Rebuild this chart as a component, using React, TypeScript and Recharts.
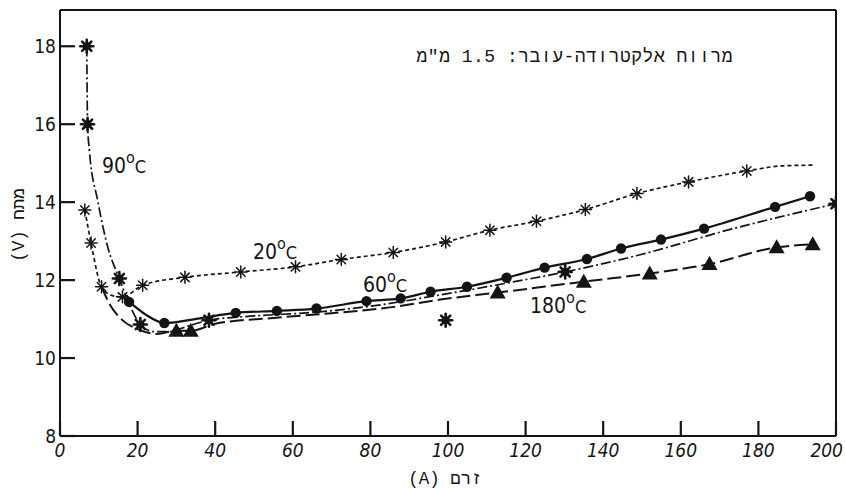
import React from 'react';
import { ComposedChart, Line, Scatter, XAxis, YAxis, ReferenceLine } from 'recharts';

// ---- data (current A, voltage V) ----
const xTicks = [0, 20, 40, 60, 80, 100, 120, 140, 160, 180, 200];
const yTicks = [8, 10, 12, 14, 16, 18];
const xDomain = [0, 200];
const yDomain = [8, 18.93];

const curve20 = [
  { x: 6.4, y: 13.8 }, { x: 8, y: 12.95 }, { x: 10.7, y: 11.83 }, { x: 13.5, y: 11.6 },
  { x: 16.1, y: 11.57 }, { x: 21.3, y: 11.87 }, { x: 32.2, y: 12.07 }, { x: 46.6, y: 12.21 },
  { x: 60.7, y: 12.34 }, { x: 72.5, y: 12.53 }, { x: 85.9, y: 12.71 }, { x: 99.4, y: 12.98 },
  { x: 110.8, y: 13.28 }, { x: 122.8, y: 13.51 }, { x: 135.4, y: 13.81 }, { x: 148.7, y: 14.22 },
  { x: 162, y: 14.52 }, { x: 177, y: 14.8 }, { x: 186, y: 14.93 }, { x: 194.6, y: 14.95 },
];
const marks20 = [
  { x: 6.4, y: 13.8 }, { x: 8, y: 12.95 }, { x: 10.7, y: 11.83 }, { x: 16.1, y: 11.57 },
  { x: 21.3, y: 11.87 }, { x: 32.2, y: 12.07 }, { x: 46.6, y: 12.21 }, { x: 60.7, y: 12.34 },
  { x: 72.5, y: 12.53 }, { x: 85.9, y: 12.71 }, { x: 99.4, y: 12.98 }, { x: 110.8, y: 13.28 },
  { x: 122.8, y: 13.51 }, { x: 135.4, y: 13.81 }, { x: 148.7, y: 14.22 }, { x: 162, y: 14.52 },
  { x: 177, y: 14.8 },
];

const curve60 = [
  { x: 16.1, y: 11.57 }, { x: 17.8, y: 11.44 }, { x: 22, y: 11.12 }, { x: 26.9, y: 10.9 },
  { x: 36, y: 11.02 }, { x: 45.3, y: 11.16 }, { x: 55.9, y: 11.21 }, { x: 66.1, y: 11.27 },
  { x: 79, y: 11.46 }, { x: 87.8, y: 11.53 }, { x: 95.5, y: 11.7 }, { x: 104.9, y: 11.83 },
  { x: 115.1, y: 12.06 }, { x: 124.9, y: 12.32 }, { x: 135.8, y: 12.54 }, { x: 144.6, y: 12.81 },
  { x: 154.9, y: 13.04 }, { x: 166, y: 13.32 }, { x: 184.3, y: 13.88 }, { x: 193.3, y: 14.15 },
];
const marks60 = [
  { x: 17.8, y: 11.44 }, { x: 26.9, y: 10.9 }, { x: 45.3, y: 11.16 }, { x: 55.9, y: 11.21 },
  { x: 66.1, y: 11.27 }, { x: 79, y: 11.46 }, { x: 87.8, y: 11.53 }, { x: 95.5, y: 11.7 },
  { x: 104.9, y: 11.83 }, { x: 115.1, y: 12.06 }, { x: 124.9, y: 12.32 }, { x: 135.8, y: 12.54 },
  { x: 144.6, y: 12.81 }, { x: 154.9, y: 13.04 }, { x: 166, y: 13.32 }, { x: 184.3, y: 13.88 },
  { x: 193.3, y: 14.15 },
];

const curve90 = [
  { x: 6.9, y: 18 }, { x: 7.1, y: 16 }, { x: 7.6, y: 15.3 }, { x: 9.7, y: 14.05 },
  { x: 12.3, y: 12.85 }, { x: 15.3, y: 12.04 }, { x: 18, y: 11.35 }, { x: 20.7, y: 10.86 },
  { x: 24, y: 10.68 }, { x: 28, y: 10.68 }, { x: 33, y: 10.82 }, { x: 38.4, y: 10.97 },
  { x: 50, y: 11.08 }, { x: 65, y: 11.17 }, { x: 80, y: 11.33 }, { x: 98, y: 11.62 },
  { x: 115, y: 11.92 }, { x: 130.2, y: 12.21 }, { x: 149.5, y: 12.65 }, { x: 172.7, y: 13.3 },
  { x: 200, y: 13.96 },
];
const marks90 = [
  { x: 6.9, y: 18 }, { x: 7.1, y: 16 }, { x: 15.3, y: 12.04 }, { x: 20.7, y: 10.86 },
  { x: 38.4, y: 10.97 }, { x: 99.4, y: 10.97 }, { x: 130.2, y: 12.21 }, { x: 200, y: 13.96 },
];

const curve180 = [
  { x: 10.7, y: 11.83 }, { x: 13, y: 11.35 }, { x: 16, y: 10.98 }, { x: 20, y: 10.74 },
  { x: 25, y: 10.62 }, { x: 30, y: 10.7 }, { x: 33.7, y: 10.7 }, { x: 40, y: 10.88 },
  { x: 55, y: 11.03 }, { x: 70, y: 11.15 }, { x: 85, y: 11.3 }, { x: 98, y: 11.5 },
  { x: 112.8, y: 11.68 }, { x: 135, y: 11.96 }, { x: 152, y: 12.17 }, { x: 167.4, y: 12.41 },
  { x: 184.7, y: 12.84 }, { x: 194, y: 12.92 },
];
const marks180 = [
  { x: 30, y: 10.7 }, { x: 33.7, y: 10.7 }, { x: 112.8, y: 11.68 }, { x: 135, y: 11.96 },
  { x: 152, y: 12.17 }, { x: 167.4, y: 12.41 }, { x: 184.7, y: 12.84 }, { x: 194, y: 12.92 },
];

const title = 'מרווח אלקטרודה-עובר: 1.5 מ"מ';
const xLabel = 'זרם (A)';
const yLabel = 'מתח (V)';

// ---- styling ----
const INK = '#141414';
const W = 845;
const H = 488;
const Y_W = 60;
const X_H = 52;
const TICK_FONT = '"DejaVu Sans Condensed", "DejaVu Sans", sans-serif';
const MONO = '"Liberation Mono", "DejaVu Sans Mono", monospace';
const TICK_LEN = 15;

const XTick = (p: any) => {
  const { x, y, payload } = p;
  const last = payload.value === xDomain[1];
  return (
    <text x={last ? x + 7 : x} y={y} dy="0.72em" textAnchor={last ? 'end' : 'middle'} fontStyle="italic"
      fontFamily={TICK_FONT} fontSize={19} fill={INK}>{payload.value}</text>
  );
};

const YTick = (p: any) => {
  const { x, y, payload } = p;
  return (
    <text x={x} y={y} dy="0.36em" textAnchor="end"
      fontFamily={TICK_FONT} fontSize={19} fill={INK}>{payload.value}</text>
  );
};

const Star = ({ cx, cy, bold }: any) => {
  if (cx == null || cy == null) return null;
  const r = bold ? 6.5 : 6;
  const angles = [0, 45, 90, 135];
  return (
    <g stroke={INK} strokeWidth={bold ? 2.6 : 1.5} strokeLinecap="round">
      {angles.map((a) => {
        const t = (a * Math.PI) / 180;
        return (
          <line key={a} x1={cx - r * Math.cos(t)} y1={cy - r * Math.sin(t)}
            x2={cx + r * Math.cos(t)} y2={cy + r * Math.sin(t)} />
        );
      })}
      {bold && <circle cx={cx} cy={cy} r={4} fill={INK} stroke="none" />}
    </g>
  );
};

const Dot = ({ cx, cy }: any) => (cx == null ? null : <circle cx={cx} cy={cy} r={5.2} fill={INK} />);

const Tri = ({ cx, cy }: any) =>
  cx == null ? null : (
    <polygon points={`${cx},${cy - 8} ${cx - 8},${cy + 6} ${cx + 8},${cy + 6}`} fill={INK} />
  );

const Deg = ({ x, y, num }: { x: number; y: number; num: string }) => (
  <text x={x} y={y} fontFamily={TICK_FONT} fontSize={21} fill={INK}>
    <tspan>{num}</tspan>
    <tspan fontSize={16} dy={-10}>o</tspan>
    <tspan fontSize={18} dy={10}>C</tspan>
  </text>
);

export default function App() {
  return (
    <div style={{ position: 'absolute', left: 0, top: 0, width: W, height: H, background: '#fff' }}>
      <ComposedChart width={W} height={H} margin={{ top: 10, right: 9, bottom: 0, left: 0 }}>
        <XAxis type="number" dataKey="x" domain={xDomain} ticks={xTicks} allowDataOverflow
          height={X_H} tickSize={-TICK_LEN} tickMargin={TICK_LEN + 7}
          tickLine={{ stroke: INK, strokeWidth: 2.2 }}
          axisLine={{ stroke: INK, strokeWidth: 2 }} tick={<XTick />} interval={0} />
        <YAxis type="number" dataKey="y" domain={yDomain} ticks={yTicks} allowDataOverflow
          width={Y_W} tickSize={-TICK_LEN} tickMargin={TICK_LEN + 4}
          tickLine={{ stroke: INK, strokeWidth: 2.2 }}
          axisLine={{ stroke: INK, strokeWidth: 2 }} tick={<YTick />} interval={0} />
        <ReferenceLine y={yDomain[1]} stroke={INK} strokeWidth={2} />
        <ReferenceLine x={xDomain[1]} stroke={INK} strokeWidth={2} />

        <Line data={curve20} dataKey="y" type="monotone" stroke={INK} strokeWidth={1.7}
          strokeDasharray="4 3" dot={false} isAnimationActive={false} />
        <Line data={curve60} dataKey="y" type="monotone" stroke={INK} strokeWidth={2.2}
          dot={false} isAnimationActive={false} />
        <Line data={curve90} dataKey="y" type="monotone" stroke={INK} strokeWidth={1.7}
          strokeDasharray="10 3 2 3" dot={false} isAnimationActive={false} />
        <Line data={curve180} dataKey="y" type="monotone" stroke={INK} strokeWidth={2}
          strokeDasharray="14 5" dot={false} isAnimationActive={false} />

        <Scatter data={marks20} dataKey="y" shape={(p: any) => <Star cx={p.cx} cy={p.cy} />} isAnimationActive={false} />
        <Scatter data={marks60} dataKey="y" shape={(p: any) => <Dot cx={p.cx} cy={p.cy} />} isAnimationActive={false} />
        <Scatter data={marks90} dataKey="y" shape={(p: any) => <Star cx={p.cx} cy={p.cy} bold />} isAnimationActive={false} />
        <Scatter data={marks180} dataKey="y" shape={(p: any) => <Tri cx={p.cx} cy={p.cy} />} isAnimationActive={false} />
      </ComposedChart>
      <svg width={W} height={H} style={{ position: 'absolute', left: 0, top: 0, pointerEvents: 'none' }}>
        <text x={733} y={62} textAnchor="end" fontFamily={MONO} fontSize={18} letterSpacing={0.5} fill={INK}>{title}</text>
        <Deg x={102} y={173} num="90" />
        <Deg x={253} y={259} num="20" />
        <Deg x={363} y={292} num="60" />
        <Deg x={530} y={313} num="180" />
        <text x={445} y={484} textAnchor="middle" direction="rtl" fontFamily={MONO} fontSize={17.5} fill={INK}>{xLabel}</text>
        <text x={19} y={225} transform="rotate(-90 19 225)" textAnchor="middle" direction="rtl"
          dominantBaseline="central" fontFamily={MONO} fontSize={17.5} fill={INK}>{yLabel}</text>
      </svg>
    </div>
  );
}
